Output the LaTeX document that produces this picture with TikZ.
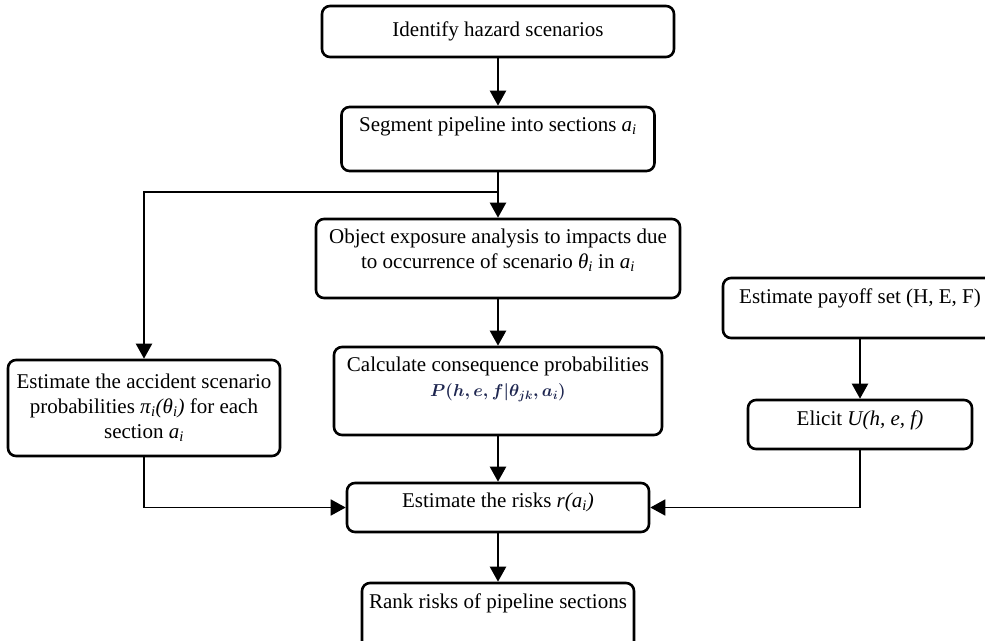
\documentclass[tikz,border=0pt]{standalone}
\usepackage{fontspec}
\setmainfont{Liberation Serif}
\usepackage{xcolor}
\usepackage{tikz}
\usetikzlibrary{positioning}
\usetikzlibrary{arrows.meta}

\newcommand{\secai}{\textit{a}\textsubscript{\textit{i}}}
\definecolor{eqnavy}{RGB}{30,38,80}

\begin{document}
\begin{tikzpicture}[x=1pt,y=-1pt,
		font=\fontsize{21}{25}\selectfont,
		stage/.style={draw, rounded corners=8pt, line width=2.6pt, align=center, inner sep=0pt},
		toptext/.style={anchor=north, yshift=-8pt, align=center},
		flow/.style={line width=2.2pt, -{Triangle[length=15pt,width=16pt]}},
		side/.style={line width=1.7pt, -{Triangle[length=15pt,width=16pt]}}]
		\useasboundingbox (0,0) rectangle (985,640);
		
		\node[stage, minimum width=352pt, minimum height=51pt] (hazard) at (498,31.5) {Identify hazard scenarios};
		\node[stage, minimum width=313pt, minimum height=64pt, label={[toptext]north:Segment pipeline into sections \secai}] (segment) at (498,139) {};
		\node[stage, minimum width=364pt, minimum height=79pt, label={[toptext]north:Object exposure analysis to impacts due\\to occurrence of scenario \textit{θ}\textsubscript{\textit{i}} in \secai}] (exposure) at (498,258.5) {};
		\node[stage, minimum width=328pt, minimum height=88pt, label={[toptext]north:Calculate consequence probabilities\\{\color{eqnavy}\fontsize{18.5}{25}\selectfont\boldmath$P(h,e,f|\theta_{jk},a_i)$}}] (consequence) at (498,391) {};
		\node[stage, minimum width=272pt, minimum height=96pt] (accident) at (144,408) {Estimate the accident scenario\\probabilities \textit{π}\textsubscript{\textit{i}}\textit{(θ}\textsubscript{\textit{i}}\textit{)} for each\\section \secai};
		\node[stage, minimum width=274pt, minimum height=60pt, label={[toptext]north:Estimate payoff set (H, E, F)}] (payoff) at (860,308) {};
		\node[stage, minimum width=224pt, minimum height=49pt, label={[toptext]north:Elicit \textit{U(h, e, f)}}] (elicit) at (860,424.5) {};
		\node[stage, minimum width=302pt, minimum height=49pt, label={[toptext]north:Estimate the risks \textit{r(a}\textsubscript{\textit{i}}\textit{)}}] (risks) at (498,507.5) {};
		\node[stage, minimum width=272pt, minimum height=67pt, label={[toptext]north:Rank risks of pipeline sections}] (rank) at (498,616.5) {};
		\coordinate (split) at (498,192);
		
		\draw[flow] (hazard) -- (segment);
		\draw[flow] (segment) -- (exposure);
		\draw[flow] (split) -| (accident.north);
		\draw[flow] (exposure) -- (consequence);
		\draw[flow] (consequence) -- (risks);
		\draw[flow] (payoff) -- (elicit);
		\draw[side] (accident.south) |- (risks.west);
		\draw[side] (elicit.south) |- (risks.east);
		\draw[flow] (risks) -- (rank);
	\end{tikzpicture}
\end{document}
